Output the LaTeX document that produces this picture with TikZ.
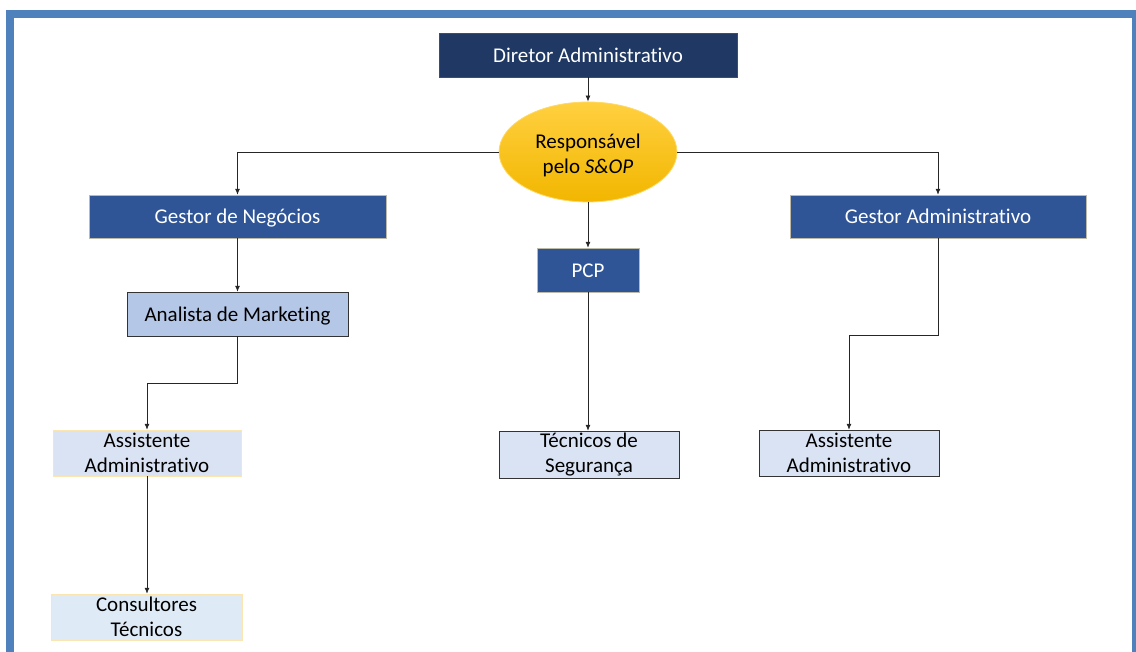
\documentclass[tikz,border=0pt]{standalone}
\usepackage{fontspec}
\setmainfont[Ligatures={NoCommon}]{Carlito}
\usetikzlibrary{shapes.geometric,arrows.meta}
\definecolor{navy}{HTML}{203864}
\definecolor{midblue}{HTML}{2F5597}
\definecolor{lightblue}{HTML}{B4C7E7}
\definecolor{paleblue}{HTML}{DAE3F3}
\definecolor{paleblue2}{HTML}{DEEBF7}
\definecolor{frameblue}{HTML}{4F81BD}
\definecolor{gold}{HTML}{FFC000}
\definecolor{paleborder}{HTML}{FBE5B0}
\tikzset{
  box/.style={rectangle, draw, inner sep=0pt, align=center, font=\fontsize{21}{25}\selectfont},
  one/.style={text height=15pt, text depth=0pt},
  darkbox/.style={box, one, fill=navy, draw=gray!60!black, text=white},
  midbox/.style={box, one, fill=midblue, draw=paleborder!70!midblue, text=white},
  lbox/.style={box, fill=lightblue, draw=black!80},
  pbox/.style={box, fill=paleblue, draw=black!80},
  pboxy/.style={box, fill=paleblue, draw=paleborder},
  pboxy2/.style={box, fill=paleblue2, draw=paleborder},
  conn/.style={draw=black!85, line width=0.8pt, -{Latex[length=6pt,width=5pt]}},
  line/.style={draw=black!85, line width=0.8pt}
}
\begin{document}
\begin{tikzpicture}[x=1pt,y=-1pt]
\useasboundingbox (0,0) rectangle (1136,652);
% frame
\fill[frameblue] (6,10) rectangle (1136,18);
\fill[frameblue] (6,10) rectangle (14,652);
\fill[frameblue] (1132,10) rectangle (1136,652);
% nodes
\node[darkbox, minimum width=298pt, minimum height=44pt] (dir) at (588,55) {Diretor Administrativo};
\node[ellipse, draw=gold!60!white, line width=0.8pt, top color=gold!75!white, bottom color=gold!95!black, minimum width=178pt, minimum height=100pt, inner sep=0pt, align=center, font=\fontsize{21}{25}\selectfont] (sop) at (588,152) {\rule{0pt}{22pt}Responsável\\pelo \textit{S\&OP}};
\node[midbox, minimum width=297pt, minimum height=43pt] (gn) at (237.5,216.5) {Gestor de Negócios};
\node[midbox, minimum width=296pt, minimum height=43pt] (ga) at (938,216.5) {Gestor Administrativo};
\node[midbox, minimum width=102pt, minimum height=44pt] (pcp) at (588,270) {PCP};
\node[lbox, one, minimum width=221pt, minimum height=44pt] (am) at (237.5,314) {Analista de Marketing};
\node[pboxy, minimum width=188pt, minimum height=46pt] (aa1) at (147,453) {Assistente\\Administrativo};
\node[pboxy2, minimum width=191pt, minimum height=46pt] (ct) at (146.5,617) {Consultores\\Técnicos};
\node[pbox, minimum width=180pt, minimum height=47pt] (ts) at (589,454.5) {Técnicos de\\Segurança};
\node[pbox, minimum width=180pt, minimum height=46pt] (aa2) at (849,453) {Assistente\\Administrativo};
% connectors
\draw[conn] (dir) -- (sop);
\draw[line] (sop.west) -- (237.5,152) coordinate (lc);
\draw[conn] (lc) -- (gn);
\draw[line] (sop.east) -- (938,152) coordinate (rc);
\draw[conn] (rc) -- (ga);
\draw[conn] (sop) -- (pcp);
\draw[conn] (gn) -- (am);
\draw[conn] (am.south) -- (237.5,383) -| (aa1.north);
\draw[conn] (aa1) -- (aa1 |- ct.north);
\draw[conn] (pcp) -- (pcp |- ts.north);
\draw[conn] (ga.south) -- (938,335) -| (aa2.north);
\end{tikzpicture}
\end{document}
